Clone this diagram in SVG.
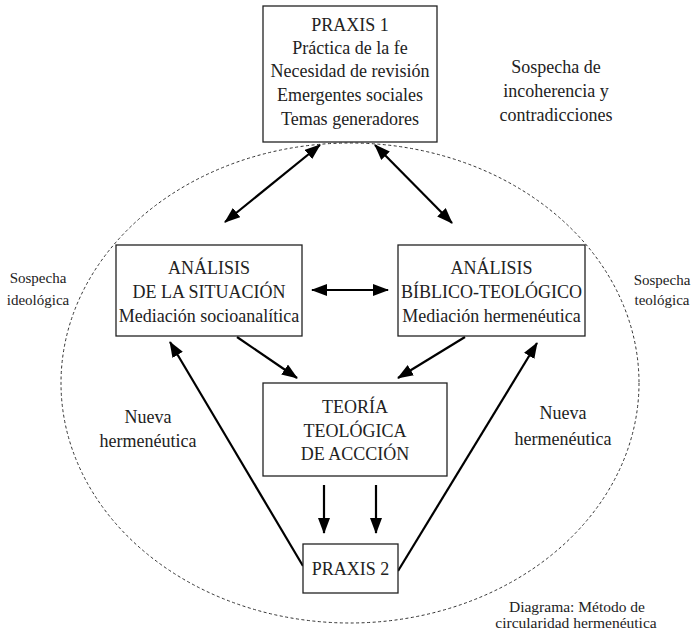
<svg xmlns="http://www.w3.org/2000/svg" width="692" height="634" viewBox="0 0 692 634">
<style>
  .box { fill: #fff; stroke: #222; stroke-width: 1.3; }
  .t { font-family: "Liberation Serif", "Times New Roman", serif; fill: #222; text-anchor: middle; }
  .m { font-size: 18px; }
  .s { font-size: 15px; }
  .c { font-size: 15.5px; }
  .arr { stroke: #000; stroke-width: 2.2; fill: none; }
</style>
<defs>
  <marker id="ah" markerUnits="userSpaceOnUse" markerWidth="16" markerHeight="12" refX="15" refY="6" orient="auto-start-reverse" viewBox="0 0 16 12">
    <path d="M0,0 L16,6 L0,12 z" fill="#000"/>
  </marker>
</defs>
<ellipse cx="350" cy="383" rx="289" ry="240" fill="none" stroke="#333" stroke-width="1" stroke-dasharray="3 2.5"/>
<g id="connectors">
  <line class="arr" x1="320" y1="145" x2="225" y2="222" marker-start="url(#ah)" marker-end="url(#ah)"/>
  <line class="arr" x1="375" y1="145" x2="452" y2="223" marker-start="url(#ah)" marker-end="url(#ah)"/>
  <line class="arr" x1="312" y1="290" x2="388" y2="290" marker-start="url(#ah)" marker-end="url(#ah)"/>
  <line class="arr" x1="237" y1="337" x2="297" y2="378" marker-end="url(#ah)"/>
  <line class="arr" x1="465" y1="337" x2="398" y2="378" marker-end="url(#ah)"/>
  <line class="arr" x1="324" y1="485" x2="324" y2="533" marker-end="url(#ah)"/>
  <line class="arr" x1="376" y1="485" x2="376" y2="533" marker-end="url(#ah)"/>
  <line class="arr" x1="303" y1="566" x2="170" y2="342" marker-end="url(#ah)"/>
  <line class="arr" x1="398" y1="571" x2="537" y2="343" marker-end="url(#ah)"/>
</g>
<g id="praxis1">
  <rect class="box" x="263" y="6" width="174" height="136"/>
  <text class="t m" x="350" y="31">PRAXIS 1</text>
  <text class="t m" x="350" y="54">Práctica de la fe</text>
  <text class="t m" x="350" y="77">Necesidad de revisión</text>
  <text class="t m" x="350" y="101">Emergentes sociales</text>
  <text class="t m" x="350" y="125">Temas generadores</text>
</g>
<g id="analisis-situacion">
  <rect class="box" x="116" y="245" width="186" height="91"/>
  <text class="t m" x="209" y="274">ANÁLISIS</text>
  <text class="t m" x="209" y="298">DE LA SITUACIÓN</text>
  <text class="t m" x="209" y="322">Mediación socioanalítica</text>
</g>
<g id="analisis-biblico">
  <rect class="box" x="398" y="245" width="187" height="91"/>
  <text class="t m" x="491.5" y="274">ANÁLISIS</text>
  <text class="t m" x="491.5" y="298">BÍBLICO-TEOLÓGICO</text>
  <text class="t m" x="491.5" y="322">Mediación hermenéutica</text>
</g>
<g id="teoria">
  <rect class="box" x="263" y="383" width="184" height="93"/>
  <text class="t m" x="355" y="413">TEORÍA</text>
  <text class="t m" x="355" y="437">TEOLÓGICA</text>
  <text class="t m" x="355" y="460">DE ACCCIÓN</text>
</g>
<g id="praxis2">
  <rect class="box" x="303" y="544" width="95" height="49"/>
  <text class="t m" x="350.5" y="575">PRAXIS 2</text>
</g>
<g id="labels">
  <text class="t m" x="556" y="73">Sospecha de</text>
  <text class="t m" x="556" y="97">incoherencia y</text>
  <text class="t m" x="556" y="121">contradicciones</text>
  <text class="t s" x="38" y="283">Sospecha</text>
  <text class="t s" x="38" y="305">ideológica</text>
  <text class="t s" x="662" y="285">Sospecha</text>
  <text class="t s" x="662" y="305">teológica</text>
  <text class="t m" x="148" y="423">Nueva</text>
  <text class="t m" x="148" y="447">hermenéutica</text>
  <text class="t m" x="563" y="419">Nueva</text>
  <text class="t m" x="563" y="445">hermenéutica</text>
  <text class="t c" x="577" y="612">Diagrama: Método de</text>
  <text class="t c" x="576" y="628">circularidad hermenéutica</text>
</g>
</svg>
